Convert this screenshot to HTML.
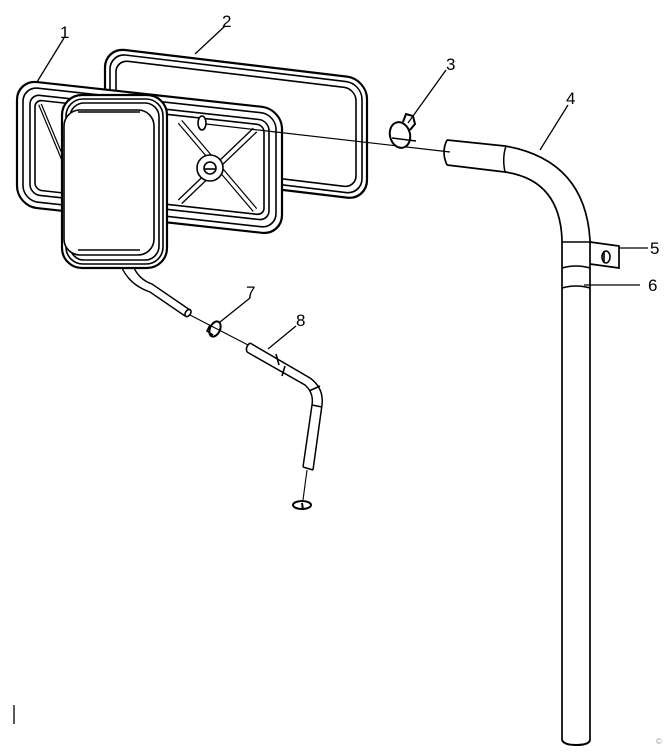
<!DOCTYPE html>
<html><head><meta charset="utf-8"><style>
html,body{margin:0;padding:0;background:#fff;width:665px;height:754px;overflow:hidden}
svg{display:block}
text{font-family:"Liberation Sans",sans-serif;font-size:17px;fill:#000}
</style></head><body>
<svg width="665" height="754" viewBox="0 0 665 754" fill="none" stroke="#000" stroke-width="1.6">
<!-- plate 2 (back) -->
<g transform="matrix(1,0.12,0,1,0,0)">
<rect x="105" y="35" width="262" height="121" rx="20" stroke-width="2.2"/>
<rect x="110" y="40" width="252" height="111" rx="16"/>
<rect x="116" y="46" width="240" height="99" rx="12"/>
</g>
<!-- plate 1 -->
<g transform="matrix(1,0.11,0,1,0,0)">
<rect x="17" y="78" width="265" height="126" rx="20" fill="#fff" stroke-width="2.2"/>
<rect x="23" y="84" width="253" height="114" rx="15"/>
<rect x="30" y="91" width="239" height="100" rx="10"/>
<rect x="35" y="96" width="229" height="90" rx="7"/>
<line x1="40" y1="100" x2="75" y2="180" stroke-width="4"/>
<line x1="40" y1="100" x2="75" y2="180" stroke="#fff" stroke-width="1.5"/>
<line x1="180" y1="102" x2="255" y2="182" stroke-width="6"/>
<line x1="180" y1="102" x2="255" y2="182" stroke="#fff" stroke-width="3.5"/>
<line x1="255" y1="102" x2="180" y2="182" stroke-width="6"/>
<line x1="255" y1="102" x2="180" y2="182" stroke="#fff" stroke-width="3.5"/>
</g>
<circle cx="210" cy="168" r="13" fill="#fff"/>
<circle cx="210" cy="168" r="6"/>
<line x1="205" y1="169" x2="215" y2="169"/>
<ellipse cx="202" cy="123" rx="4" ry="7" fill="#fff"/>
<!-- line to clamp -->
<line x1="206" y1="124" x2="450" y2="152" stroke-width="1.2"/>
<!-- front mirror -->
<rect x="62" y="95" width="105" height="173" rx="20" fill="#fff" stroke-width="2.2"/>
<rect x="66" y="99" width="97" height="165" rx="17"/>
<rect x="70" y="103" width="89" height="157" rx="14"/>
<rect x="64" y="110" width="90" height="145" rx="16" fill="#fff"/>
<line x1="78" y1="112" x2="140" y2="112"/>
<line x1="78" y1="250" x2="140" y2="250"/>
<!-- hose -->
<path d="M122 268 Q130 285 150 292 L185 316" stroke-width="1.4"/>
<path d="M134 268 Q140 280 152 284 L190 310" stroke-width="1.4"/>
<ellipse cx="188" cy="313" rx="2.5" ry="4" transform="rotate(35 188 313)"/>
<line x1="190" y1="315" x2="248" y2="345" stroke-width="1.1"/>
<ellipse cx="215" cy="329" rx="5" ry="8" transform="rotate(25 215 329)" stroke-width="2"/>
<path d="M210 325 l-3 6 l6 4" stroke-width="1.6"/>
<path d="M250 343 L310 378 Q324 388 322 405 L313 470 M247 352 L305 385 Q314 393 312 405 L303 467 M303 467 L313 470" stroke-width="1.5"/>
<path d="M250 343 Q245 347 247 352" stroke-width="1.5"/>
<line x1="276" y1="354" x2="279" y2="365"/><line x1="285" y1="366" x2="282" y2="376"/>
<line x1="309" y1="391" x2="320" y2="386"/><line x1="312" y1="405" x2="322" y2="407"/>
<line x1="307" y1="470" x2="303" y2="500" stroke-width="1.1"/>
<ellipse cx="302" cy="505" rx="9" ry="4" stroke-width="2"/>
<line x1="302" y1="503" x2="303" y2="510" stroke-width="2"/>
<!-- clamp 3 -->
<ellipse cx="400" cy="135" rx="10" ry="13" transform="rotate(-15 400 135)" stroke-width="2" fill="#fff"/>
<path d="M403 122 l3 -8 l7 2 l2 8 -5 6" stroke-width="2"/>
<line x1="392" y1="138" x2="416" y2="141"/>
<!-- pipe 4 -->
<path d="M447 140 L505 146 Q585 160 590 240 M447 165 L505 172 Q560 180 562 240" stroke-width="1.7"/>
<path d="M447 140 Q441 152 447 165" stroke-width="1.7"/>
<path d="M506 146 Q502 158 505 172" stroke-width="1.5"/>
<line x1="562" y1="240" x2="562" y2="740" stroke-width="1.7"/>
<line x1="590" y1="240" x2="590" y2="740" stroke-width="1.7"/>
<path d="M562 740 Q564 745 576 745 Q589 745 590 740" stroke-width="2"/>
<line x1="562" y1="242" x2="590" y2="242"/>
<path d="M562 268 Q576 264 590 268"/>
<path d="M562 288 Q576 284 590 288"/>
<!-- bracket 5 -->
<path d="M590 242 L619 246 L619 268 L590 264" stroke-width="1.7"/>
<ellipse cx="606" cy="257" rx="4" ry="6"/>
<line x1="604" y1="251" x2="604" y2="263"/>
<!-- leaders -->
<line x1="37" y1="82" x2="64" y2="38" stroke-width="1.3"/>
<line x1="195" y1="54" x2="225" y2="26" stroke-width="1.3"/>
<line x1="408" y1="123" x2="446" y2="70" stroke-width="1.3"/>
<line x1="540" y1="150" x2="568" y2="105" stroke-width="1.3"/>
<line x1="619" y1="248" x2="648" y2="248" stroke-width="1.3"/>
<line x1="584" y1="285" x2="640" y2="285" stroke-width="1.3"/>
<line x1="220" y1="322" x2="250" y2="298" stroke-width="1.3"/>
<line x1="268" y1="349" x2="296" y2="326" stroke-width="1.3"/>
<line x1="14" y1="705" x2="14" y2="724" stroke-width="1.3"/>
<g stroke="none">
<text x="60" y="38">1</text>
<text x="222" y="27">2</text>
<text x="446" y="70">3</text>
<text x="566" y="104">4</text>
<text x="650" y="254">5</text>
<text x="648" y="291">6</text>
<text x="246" y="298">7</text>
<text x="296" y="326">8</text>
<text x="656" y="744" style="font-size:8px;fill:#999">©</text>
</g>
</svg>
</body></html>
